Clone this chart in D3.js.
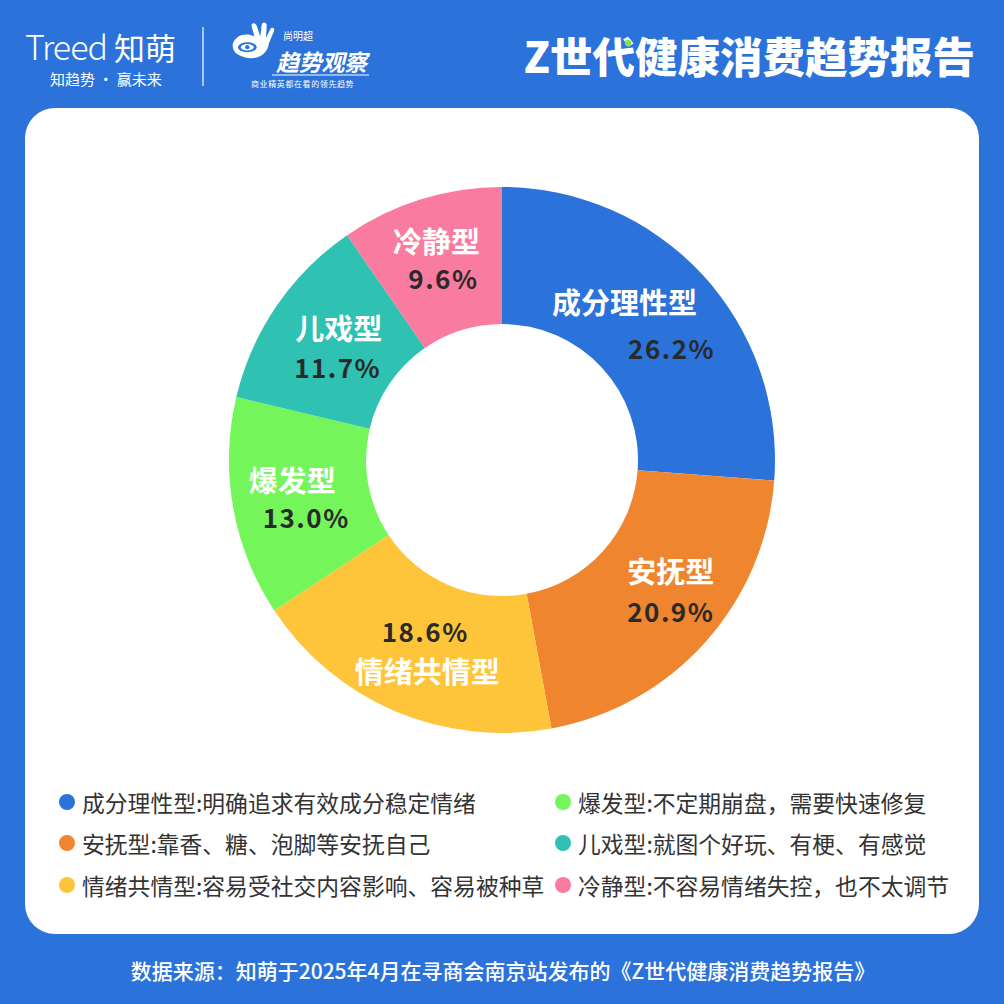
<!DOCTYPE html>
<html><head><meta charset="utf-8">
<script src="https://cdn.jsdelivr.net/npm/d3@7/dist/d3.min.js"></script>
<style>
html,body{margin:0;padding:0;background:#2b72da;}
svg{display:block;}
text{font-family:"Noto Sans CJK SC","Noto Sans",sans-serif;}
</style></head>
<body>
<svg id="chart" width="1004" height="1004"></svg>
<script>
const categories = ["成分理性型","安抚型","情绪共情型","爆发型","儿戏型","冷静型"];
const values = [26.2, 20.9, 18.6, 13.0, 11.7, 9.6];
const descriptions = [
  "明确追求有效成分稳定情绪",
  "靠香、糖、泡脚等安抚自己",
  "容易受社交内容影响、容易被种草",
  "不定期崩盘，需要快速修复",
  "就图个好玩、有梗、有感觉",
  "不容易情绪失控，也不太调节"
];
const colors = ["#2b72da","#f08530","#fec53b","#74f55a","#2fc1b1","#f97b9f"];
const title = "Z世代健康消费趋势报告";
const source = "数据来源：知萌于2025年4月在寻商会南京站发布的《Z世代健康消费趋势报告》";

// label layout: [name dx, name dy, pct dx, pct dy]
const labelOffsets = [
  [-27,-20, 20, 26],
  [ 17,-26, 17, 14],
  [  5, 22,  3,-17],
  [ -9,-17,  5, 21],
  [  5,-18,  4, 22],
  [ -5,-25,  2, 12]
];

const svg = d3.select("#chart");
const W = 1004, H = 1004;

svg.append("rect").attr("width",W).attr("height",H).attr("fill","#2b72da");
svg.append("rect").attr("x",25).attr("y",108).attr("width",954).attr("height",826)
  .attr("rx",30).attr("ry",30).attr("fill","#ffffff");

// header left logo
const hdr = svg.append("g");
hdr.append("text").attr("x",25).attr("y",60).attr("fill","#fff")
  .attr("font-size",34).attr("font-weight",300).attr("font-family","Roboto, 'Noto Sans', sans-serif")
  .attr("letter-spacing",-1).text("Treed");
hdr.append("text").attr("x",114).attr("y",60).attr("fill","#fff")
  .attr("font-size",31).attr("font-weight",400).text("知萌");
hdr.append("text").attr("x",50).attr("y",85).attr("fill","#fff")
  .attr("font-size",15).text("知趋势 · 赢未来");
hdr.append("line").attr("x1",203).attr("x2",203).attr("y1",27).attr("y2",86)
  .attr("stroke","#fff").attr("stroke-opacity",0.8).attr("stroke-width",1.5);

// hand/eye icon
const ic = hdr.append("g").attr("transform","translate(230,22) scale(0.72)");
ic.append("path").attr("fill","#fff")
  .attr("d","M4,30 C8,18 22,14 34,20 L30,6 C29,1 35,0 37,5 L42,20 L44,4 C45,-1 51,0 51,5 L50,22 L56,10 C58,6 63,8 61,13 L54,30 C52,44 40,52 26,50 C12,48 2,42 4,30 Z");
ic.append("ellipse").attr("cx",24).attr("cy",35).attr("rx",13).attr("ry",7).attr("fill","#2b72da");
ic.append("ellipse").attr("cx",24).attr("cy",35).attr("rx",9).attr("ry",4.5).attr("fill","#fff");
ic.append("circle").attr("cx",24).attr("cy",35).attr("r",3).attr("fill","#2b72da");

hdr.append("text").attr("x",283).attr("y",40).attr("fill","#fff").attr("font-size",10).text("尚明超");
hdr.append("text").attr("x",276).attr("y",71).attr("fill","#fff")
  .attr("font-size",23).attr("font-weight",700).attr("font-style","italic")
  .attr("letter-spacing",-0.3).text("趋势观察");
hdr.append("line").attr("x1",272).attr("x2",369).attr("y1",75).attr("y2",75)
  .attr("stroke","#fff").attr("stroke-width",1);
hdr.append("text").attr("x",251).attr("y",87).attr("fill","#fff").attr("font-size",8)
  .attr("letter-spacing",0.6).text("商业精英都在看的领先趋势");

// title
svg.append("text").attr("x",975).attr("y",73).attr("text-anchor","end").attr("fill","#fff")
  .attr("font-size",42.5).attr("font-weight",900).text(title);
svg.append("circle").attr("cx",628).attr("cy",43).attr("r",3.2).attr("fill","#7ee24f");

// donut
const cx = 502, cy = 460, rOuter = 273, rInner = 136;
const g = svg.append("g").attr("transform",`translate(${cx},${cy})`);
const pie = d3.pie().sort(null).value(d=>d)(values);
const arc = d3.arc().innerRadius(rInner).outerRadius(rOuter);
g.selectAll("path.slice").data(pie).join("path").attr("class","slice")
  .attr("d",arc).attr("fill",(d,i)=>colors[i]);

const labelArc = d3.arc().innerRadius(204).outerRadius(204);
pie.forEach((d,i)=>{
  const [x,y] = labelArc.centroid(d);
  const o = labelOffsets[i];
  g.append("text").attr("x",x+o[0]).attr("y",y+o[1]).attr("text-anchor","middle")
    .attr("dominant-baseline","central").attr("fill","#fff")
    .attr("font-size",29).attr("font-weight",700).text(categories[i]);
  g.append("text").attr("x",x+o[2]).attr("y",y+o[3]).attr("text-anchor","middle")
    .attr("dominant-baseline","central").attr("fill","#2a2a2a")
    .attr("font-size",26).attr("font-weight",700).attr("letter-spacing",1.5)
    .attr("font-family","'Noto Sans','Open Sans',sans-serif")
    .text(values[i].toFixed(1)+"%");
});

// legend
const legX = [67, 563], legY = [802, 843, 885];
categories.forEach((c,i)=>{
  const col = Math.floor(i/3), row = i%3;
  const lg = svg.append("g").attr("transform",`translate(${legX[col]},${legY[row]})`);
  lg.append("circle").attr("r",8).attr("fill",colors[i]);
  lg.append("text").attr("x",15).attr("y",0).attr("dominant-baseline","central")
    .attr("fill","#333").attr("font-size",22.8).text(c+":"+descriptions[i]);
});

// source
svg.append("text").attr("x",503).attr("y",970).attr("text-anchor","middle")
  .attr("dominant-baseline","central").attr("fill","#fff").attr("font-size",21)
  .attr("font-weight",500).text(source);
</script>
</body></html>
